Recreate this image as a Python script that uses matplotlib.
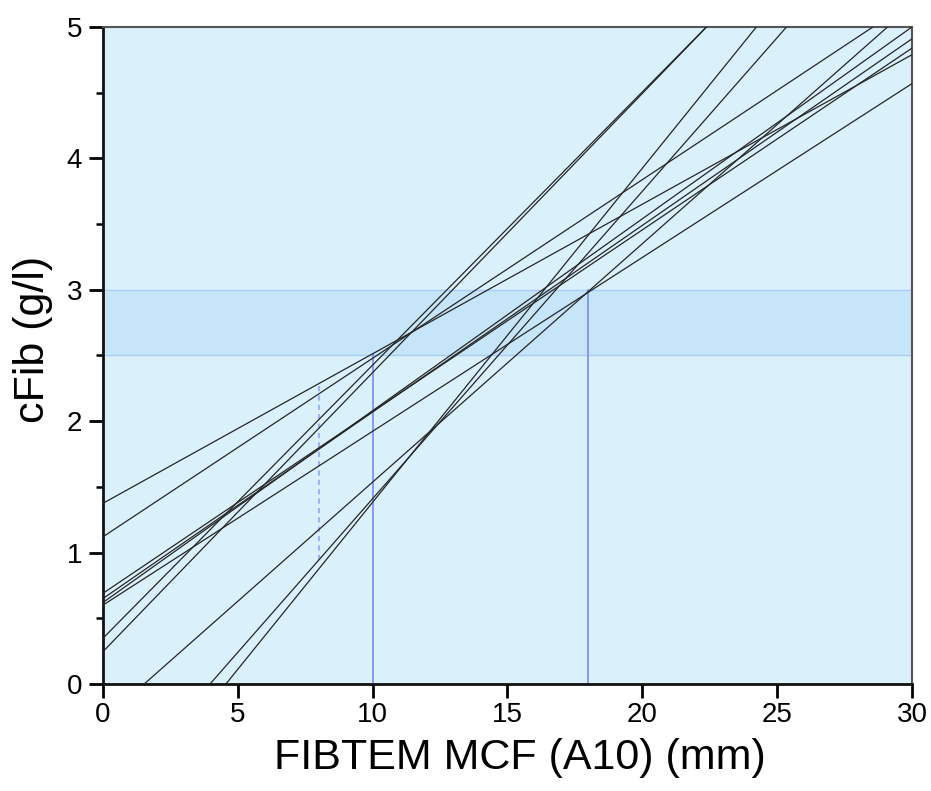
import numpy as np
import matplotlib
matplotlib.use("Agg")
import matplotlib.pyplot as plt
from matplotlib.ticker import MultipleLocator, NullLocator

plt.rcParams['font.family'] = ['Liberation Sans', 'DejaVu Sans']

# Regression lines: cFib = intercept + slope * MCF
intercepts = [0.246, 0.348, -1.159, -0.9285, -0.2775, 1.12, 1.375, 0.60, 0.62, 0.65, 0.69]
slopes = [0.2124, 0.2079, 0.2542, 0.2339, 0.1814, 0.1359, 0.1138, 0.1323, 0.146, 0.142, 0.1383]

# Target band and reference markers
band_low, band_high = 2.5, 3.0
ref_x = [10, 18]
ref_top = [2.5, 3.0]
dash_x = 8
dash_range = [0.94, 2.28]

x_range = np.array([0.0, 30.0])

fig = plt.figure(figsize=(9.31, 7.91), dpi=100)
ax = fig.add_axes([0.1106, 0.1353, 0.869, 0.8306])
ax.set_facecolor('#daf0fb')

ax.axhspan(band_low, band_high, facecolor='#c6e5f8', edgecolor='none', zorder=1)
for yb in (band_low, band_high):
    ax.axhline(yb, color='#a9cdf6', lw=1.0, zorder=1.5)

for xv, yt in zip(ref_x, ref_top):
    ax.plot([xv, xv], [0, yt], color='#7f93f4', lw=1.3, zorder=2)
ax.plot([dash_x, dash_x], dash_range, color='#9fb0f6', lw=1.5, ls=(0, (2.5, 2)), zorder=2)

for b, m in zip(intercepts, slopes):
    ax.plot(x_range, b + m * x_range, color='#262626', lw=0.9, zorder=3)

ax.set_xlim(0, 30)
ax.set_ylim(0, 5)
ax.xaxis.set_major_locator(MultipleLocator(5))
ax.xaxis.set_minor_locator(NullLocator())
ax.yaxis.set_major_locator(MultipleLocator(1))
ax.yaxis.set_minor_locator(MultipleLocator(0.5))
ax.tick_params(which='major', direction='out', length=10, width=2.0, labelsize=20)
ax.tick_params(axis='y', which='major', pad=5)
ax.tick_params(axis='x', which='major', pad=3)
ax.tick_params(which='minor', direction='out', length=5, width=1.8)
ax.tick_params(top=False, right=False, which='both')

for s in ('left', 'bottom'):
    ax.spines[s].set_linewidth(2.0)
    ax.spines[s].set_color('#111111')
for s in ('top', 'right'):
    ax.spines[s].set_linewidth(1.5)
    ax.spines[s].set_color('#555555')

ax.set_xlabel('FIBTEM MCF (A10) (mm)', fontsize=31, labelpad=7)
ax.set_ylabel('cFib (g/l)', fontsize=31, labelpad=10)
ax.xaxis.label.set_x(0.515)
ax.yaxis.label.set_y(0.525)

fig.savefig('out.png', dpi=100)
